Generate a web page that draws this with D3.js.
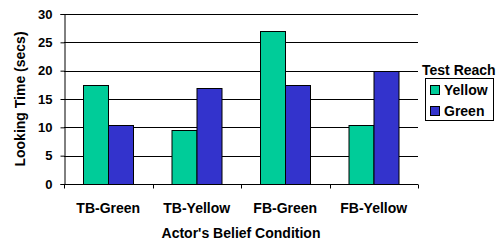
<!DOCTYPE html>
<html>
<head>
<meta charset="utf-8">
<script src="https://cdn.jsdelivr.net/npm/d3@7"></script>
<style>
  body { margin: 0; background: #fff; }
  text { font-family: "Liberation Sans", Arial, sans-serif; font-weight: bold; fill: #000; }
</style>
</head>
<body>
<div id="chart"></div>
<script>
  const categories = ["TB-Green", "TB-Yellow", "FB-Green", "FB-Yellow"];
  const seriesNames = ["Yellow", "Green"];
  const yellowValues = [17.5, 9.5, 27, 10.5];
  const greenValues = [10.5, 17, 17.5, 20];
  const yTicks = [0, 5, 10, 15, 20, 25, 30];

  const colors = { "Yellow": "#00CC99", "Green": "#3333CC" };

  const svgWidth = 503;
  const svgHeight = 243;
  const margin = { top: 14, right: 85, bottom: 59, left: 64 };

  const svg = d3.select("#chart")
    .append("svg")
    .attr("width", svgWidth)
    .attr("height", svgHeight);

  const xScale = d3.scaleBand()
    .domain(categories)
    .range([margin.left, svgWidth - margin.right]);

  const xInner = d3.scaleBand()
    .domain(seriesNames)
    .range([0, xScale.bandwidth()])
    .paddingOuter(0.74)
    .paddingInner(0);

  const yScale = d3.scaleLinear()
    .domain([0, 30])
    .range([svgHeight - margin.bottom, margin.top]);

  // gridlines
  svg.append("g")
    .selectAll("line")
    .data(yTicks.filter(d => d > 0))
    .enter()
    .append("line")
    .attr("x1", margin.left)
    .attr("x2", svgWidth - margin.right)
    .attr("y1", d => Math.round(yScale(d)) + 0.5)
    .attr("y2", d => Math.round(yScale(d)) + 0.5)
    .attr("stroke", "#000")
    .attr("stroke-width", 1);

  // bars
  const rows = categories.map((c, i) => ({ cat: c, values: [
    { name: "Yellow", value: yellowValues[i] },
    { name: "Green", value: greenValues[i] }
  ]}));

  svg.append("g")
    .selectAll("g")
    .data(rows)
    .enter()
    .append("g")
    .attr("transform", d => `translate(${xScale(d.cat)},0)`)
    .selectAll("rect")
    .data(d => d.values)
    .enter()
    .append("rect")
    .attr("x", d => Math.round(xInner(d.name)) + 0.5)
    .attr("y", d => Math.round(yScale(d.value)) + 0.5)
    .attr("width", Math.round(xInner.bandwidth()))
    .attr("height", d => Math.round(yScale(0)) - Math.round(yScale(d.value)))
    .attr("fill", d => colors[d.name])
    .attr("stroke", "#000")
    .attr("stroke-width", 1);

  // y axis
  const yAxis = svg.append("g")
    .attr("transform", `translate(${margin.left + 0.5},0)`)
    .call(d3.axisLeft(yScale).tickValues(yTicks).tickSize(4).tickPadding(8));
  yAxis.selectAll("text").style("font-size", "13px");
  yAxis.select(".domain").attr("stroke", "#000");
  yAxis.selectAll(".tick line").attr("stroke", "#000");

  // x axis
  const xAxisG = svg.append("g")
    .attr("transform", `translate(0,${Math.round(yScale(0)) + 0.5})`);
  xAxisG.append("line")
    .attr("x1", margin.left)
    .attr("x2", svgWidth - margin.right)
    .attr("stroke", "#000");
  xAxisG.selectAll(".xt")
    .data(categories.concat(["end"]))
    .enter()
    .append("line")
    .attr("x1", (d, i) => Math.round(margin.left + i * xScale.bandwidth()) + 0.5)
    .attr("x2", (d, i) => Math.round(margin.left + i * xScale.bandwidth()) + 0.5)
    .attr("y1", 0)
    .attr("y2", 4)
    .attr("stroke", "#000");
  xAxisG.selectAll(".xl")
    .data(categories)
    .enter()
    .append("text")
    .attr("x", d => xScale(d) + xScale.bandwidth() / 2)
    .attr("y", 28)
    .attr("text-anchor", "middle")
    .style("font-size", "14px")
    .text(d => d);

  // axis titles
  svg.append("text")
    .attr("x", (margin.left + svgWidth - margin.right) / 2)
    .attr("y", 238)
    .attr("text-anchor", "middle")
    .style("font-size", "14px")
    .text("Actor's Belief Condition");

  svg.append("text")
    .attr("transform", `translate(25,${(yScale(0) + yScale(30)) / 2}) rotate(-90)`)
    .attr("text-anchor", "middle")
    .style("font-size", "14px")
    .text("Looking Time (secs)");

  // legend
  const legend = svg.append("g");
  legend.append("text")
    .attr("x", 422)
    .attr("y", 75)
    .style("font-size", "14px")
    .text("Test Reach");
  legend.append("rect")
    .attr("x", 425.5)
    .attr("y", 78.5)
    .attr("width", 68)
    .attr("height", 42)
    .attr("fill", "#fff")
    .attr("stroke", "#000");
  seriesNames.forEach((s, i) => {
    legend.append("rect")
      .attr("x", 430.5)
      .attr("y", 85.5 + i * 21)
      .attr("width", 9)
      .attr("height", 9)
      .attr("fill", colors[s])
      .attr("stroke", "#000");
    legend.append("text")
      .attr("x", 444)
      .attr("y", 95 + i * 21)
      .style("font-size", "14px")
      .text(s);
  });
</script>
</body>
</html>
